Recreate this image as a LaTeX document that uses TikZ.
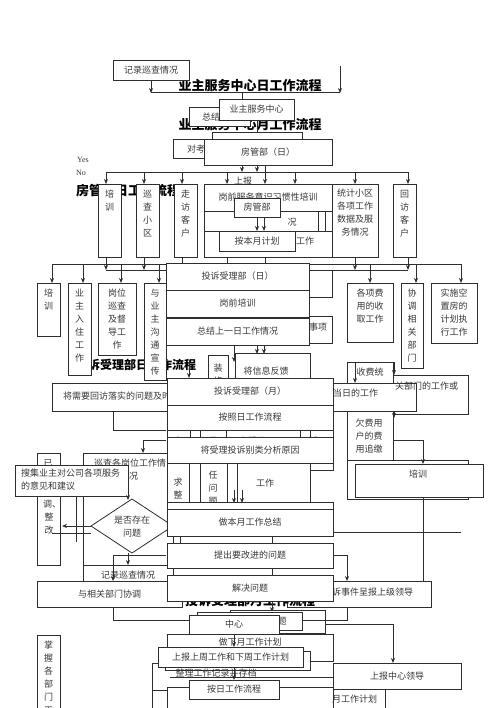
\documentclass[tikz,border=0pt]{standalone}
\usepackage{fontspec}
\setmainfont{Liberation Serif}
\newfontfamily\cjk{Noto Sans CJK SC}
\usetikzlibrary{arrows.meta}
\tikzset{
 ln/.style={line width=0.8pt, draw=black!82},
 box/.style={ln, fill=white, inner sep=0pt},
 txt/.style={font=\cjk\fontsize{9}{13}\selectfont, text=black!78, inner sep=0pt, align=center},
 ttl/.style={font=\cjk\bfseries\fontsize{13}{13}\selectfont, text=black, inner sep=0pt},
 arr/.style={ln, -{Stealth[length=5pt,width=4pt]}},
}
\newcommand\bx[6]{\node[box,txt,minimum width={(#4-#2)*1pt},minimum height={(#5-#3)*1pt}] (#1) at ({(#2+#4)/2},{(#3+#5)/2}) {#6};}
\newcommand\vbx[6]{\bx{#1}{#2}{#3}{#4}{#5}{}\node[txt,anchor=north] (#1t) at ({(#2+#4)/2},{#3+6}) {#6};}
\begin{document}
\begin{tikzpicture}[x=1pt,y=-1pt]
\useasboundingbox (0,0) rectangle (500,708);
\fill[white] (0,0) rectangle (500,708);
% ---------- top ----------
\node[ttl] (t1) at (250,86) {业主服务中心日工作流程};
\bx{b1}{113}{60}{189}{80}{记录巡查情况}
\coordinate (c1) at (340,66);
\draw[ln] (151,92) -- (340,92);
\draw[arr] (151,80) -- (151,93);
\draw[arr] (c1) -- (340,93);
\draw[ln] (242,92) -- (242,100);
\node[ttl] (t2) at (250,125) {业主服务中心月工作流程};
\bx{b2}{189}{107}{250}{126}{}
\node[txt,anchor=west] at (202,117) {总结};
\bx{b3}{219}{99}{294}{120}{业主服务中心}
\draw[ln] (257,120) -- (257,132);
\draw[ln] (212,145) -- (212,132) -- (302,132) -- (302,145);
\bx{b4}{173}{139}{204}{158}{}
\node[txt,anchor=west] at (187,149) {对考};
\bx{b5}{204}{139}{332}{165}{房管部（日）}
\draw[arr] (242,165) -- (242,172);
\draw[arr] (257,165) -- (257,172);
\node[font=\fontsize{8}{8}\selectfont,text=black!78] (yes) at (83,160) {Yes};
\node[font=\fontsize{8}{8}\selectfont,text=black!78] (no) at (81,173) {No};
\node[ttl] (t3) at (128,191) {房管部日工作流程};
\draw[ln] (106,172) -- (408,172);
\draw[ln] (265,165) -- (265,172);
\foreach \x in {106,144,182,227,265,295,355,408} \draw[arr] (\x,172) -- (\x,184);
\node[txt] at (243,181) {上报};
% ---------- row A ----------
\vbx{a1}{98}{184}{121}{257}{培\\训}
\vbx{a2}{136}{184}{159}{257}{巡\\查\\小\\区}
\vbx{a3}{174}{184}{197}{257}{走\\访\\客\\户}
\bx{a4}{204}{184}{332}{257}{}
\bx{a4a}{204}{184}{332}{211}{岗前服务意识习惯性培训}
\node[txt] at (292,222) {况};
\draw[ln] (318,211) -- (318,231) (325,211) -- (325,231);
\draw[ln] (204,231) -- (332,231);
\node[txt] at (305,241) {工作};
\bx{a4b}{234}{198}{280}{217}{房管部}
\bx{a4c}{219}{231}{295}{251}{按本月计划}
\draw[arr] (257,217) -- (257,231);
\draw[arr] (264,217) -- (264,231);
\bx{a5}{332}{184}{378}{257}{}
\node[txt,anchor=north] at (355,189) {统计小区\\各项工作\\数据及服\\务情况};
\vbx{a6}{393}{184}{416}{257}{回\\访\\客\\户}
% ---------- bus below row A ----------
\draw[ln] (52,264) -- (461,264);
\draw[ln] (106,270) -- (408,270);
\foreach \x in {106,144,355,408} \draw[arr] (\x,257) -- (\x,270);
\foreach \x in {182,227,265} \draw[ln] (\x,257) -- (\x,264);
\foreach \x in {52,83,121,159,370,416,461} \draw[arr] (\x,264) -- (\x,283);
\node[ttl,font=\cjk\bfseries\fontsize{12}{12}\selectfont] (t4) at (136,365) {投诉受理部日工作流程};
% ---------- row B ----------
\vbx{r1}{37}{283}{60}{336}{培\\训}
\vbx{r2}{68}{283}{91}{375}{业\\主\\入\\住\\工\\作}
\vbx{r3}{98}{283}{136}{355}{岗位\\巡查\\及督\\导工\\作}
\vbx{r4}{144}{283}{166}{380}{与\\业\\主\\沟\\通\\宣\\传}
\vbx{r5}{347}{283}{393}{342}{各项费\\用的收\\取工作}
\vbx{r6}{401}{283}{423}{368}{协\\调\\相\\关\\部\\门}
\vbx{r7}{431}{283}{477}{343}{实施空\\置房的\\计划执\\行工作}
% ---------- centre stack 1 ----------
\bx{s0a}{200}{270}{332}{297}{}
\bx{s0b}{250}{316}{332}{343}{}
\node[txt] at (318,327) {事项};
\bx{s1}{166}{263}{309}{290}{投诉受理部（日）}
\bx{s2}{166}{290}{309}{317}{岗前培训}
\bx{s3}{166}{318}{309}{345}{总结上一日工作情况}
\draw[arr] (257,345) -- (257,354);
\draw[arr] (264,345) -- (264,354);
\draw[arr] (234,345) -- (234,362);
\draw[arr] (189,360) -- (189,378);
\bx{s4}{208}{355}{228}{384}{}
\node[txt,anchor=north] at (218,364) {装\\修};
\bx{s5}{235}{353}{310}{380}{}
\node[txt] at (266,371) {将信息反馈};
% ---------- right middle ----------
\bx{m1}{347}{362}{393}{460}{}
\node[txt] at (370,372) {收费统};
\node[txt] at (369,436) {欠费用\\户的费\\用追缴};
\draw[arr] (355,362) -- (355,383);
\bx{m2}{347}{460}{468}{499}{}
\bx{m3}{393}{375}{468}{414}{}
\draw[arr] (394,362) -- (394,375);
\bx{m4}{52}{383}{416}{411}{}
\node[txt,anchor=west] at (63,396) {将需要回访落实的问题及时};
\node[txt,anchor=west] at (333,393) {当日的工作};
\node[txt,anchor=west] at (395,386) {关部门的工作或};
\draw[arr] (394,411) -- (394,418);
\draw[ln] (393,440) -- (423,440);
\draw[arr] (423,440) -- (423,464);
\bx{m5}{355}{464}{483}{497}{}
\node[txt] at (418,474) {培训};
\draw[ln] (423,497) -- (423,581);
\draw[ln] (333,532) -- (461,532);
% ---------- lower left ----------
\draw[ln] (113,411) -- (113,430) -- (166,430);
\draw[ln] (166,440) -- (143,440);
\draw[arr] (143,440) -- (143,453);
\bx{L1}{83}{453}{180}{565}{}
\node[txt,anchor=west] at (94,463) {巡查各岗位工作情};
\node[txt,anchor=west] at (129,476) {况};
\bx{L2}{37}{453}{60}{565}{}
\node[txt] at (48,463) {已};
\node[txt,anchor=west] at (43,504) {调、};
\node[txt] at (49,517) {整};
\node[txt] at (49,530) {改};
\bx{L3}{15}{465}{128}{496}{}
\node[txt,anchor=west,align=left] at (21,480) {搜集业主对公司各项服务\\的意见和建议};
\draw[arr] (128,492) -- (128,500);
\draw[ln] (76,496) -- (76,542);
\draw[ln,fill=white] (91,526) -- (132,499) -- (173,526) -- (132,553) -- cycle;
\node[txt] (dia) at (132,527) {是否存在\\问题};
\draw[arr] (91,526) -- (62,526);
\draw[ln] (52,533) -- (91,533);
\draw[arr] (128,553) -- (128,565);
\draw[ln] (113,555) -- (166,555);
\bx{L4}{83}{565}{173}{581}{}
\node[txt] at (128,575) {记录巡查情况};
\draw[arr] (113,555) -- (113,581);
\bx{L5}{37}{581}{182}{607}{与相关部门协调}
\draw[ln] (113,607) -- (113,620) -- (189,620);
% ---------- centre stack 2 ----------
\bx{s6}{167}{378}{333}{405}{投诉受理部（月）}
\bx{s7}{167}{405}{333}{430}{按照日工作流程}
\bx{s8}{167}{430}{333}{470}{}
\node[txt] at (178,441) {忘};
\node[txt] at (213,441) {员};
\node[txt] at (257,441) {上报公司};
\node[txt] at (313,441) {派};
\foreach \x in {190,200,226,300,310} \draw[ln] (\x,430) -- (\x,438);
\bx{s9}{167}{437}{333}{463}{将受理投诉别类分析原因}
\bx{s10}{167}{463}{310}{502}{}
\foreach \x in {189,200,227,237} \draw[ln] (\x,463) -- (\x,502);
\node[txt,anchor=north] at (178,478) {求\\整};
\node[txt,anchor=north] at (213,471) {任\\问\\题};
\node[txt] at (265,483) {工作};
\draw[arr] (234,490) -- (234,503);
\draw[arr] (242,490) -- (242,503);
\bx{s11}{167}{502}{333}{515}{}
\bx{s12}{167}{509}{333}{536}{做本月工作总结}
\draw[ln] (173,536) -- (173,543) (272,536) -- (272,543);
\bx{s13}{167}{543}{333}{568}{提出要改进的问题}
\draw[ln] (173,568) -- (173,575) (272,568) -- (272,575);
\draw[ln] (333,555) -- (347,555);
\draw[arr] (347,555) -- (347,581);
\bx{s14}{287}{581}{431}{607}{}
\node[txt,anchor=west] at (323,592) {投诉事件呈报上级领导};
\node[ttl] (t5) at (250,601) {投诉受理部月工作流程};
\bx{s15}{167}{575}{333}{601}{解决问题}
\draw[arr] (272,601) -- (272,612);
\bx{s16}{230}{610}{325}{633}{}
\bx{s17}{197}{612}{302}{630}{}
\node[txt] at (282,621) {题};
\draw[ln] (347,607) -- (347,620) -- (302,620);
\draw[ln] (325,624) -- (393,624);
\draw[arr] (393,624) -- (393,663);
\bx{s18}{189}{615}{279}{634}{中心}
\bx{s19}{167}{634}{333}{661}{}
\node[txt] at (250,642) {做下月工作计划};
\draw[arr] (234,634) -- (234,647);
\bx{s20}{165}{651}{310}{670}{}
\bx{s21}{158}{647}{303}{667}{上报上周工作和下周工作计划}
\node[txt] at (216,673) {整理工作记录并存档};
\draw[ln] (170,677) -- (340,677);
\draw[ln] (152,708) -- (152,663) -- (158,663);
\draw[ln] (152,690) -- (167,690);
\bx{s22}{167}{687}{333}{720}{}
\draw[arr] (234,667) -- (234,680);
\bx{s23}{189}{680}{279}{699}{按日工作流程}
\bx{s24}{333}{663}{461}{689}{上报中心领导}
\bx{s25}{333}{689}{385}{720}{}
\node[txt,anchor=west] at (332,699) {月工作计划};
\vbx{z1}{37}{635}{60}{720}{掌\\握\\各\\部\\门\\工}
\end{tikzpicture}
\end{document}
